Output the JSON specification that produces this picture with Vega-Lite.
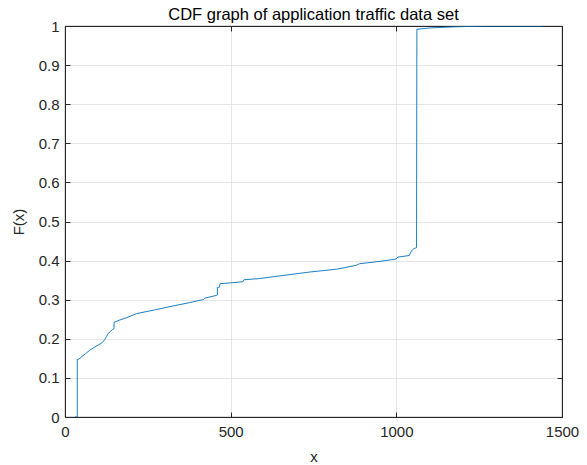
{
  "$schema": "https://vega.github.io/schema/vega-lite/v6.json",
  "autosize": "none",
  "padding": {"left": 65, "top": 26, "right": 25, "bottom": 48},
  "width": 497,
  "height": 391,
  "background": "white",
  "config": {
    "font": "Liberation Sans",
    "view": {"stroke": "#262626", "strokeWidth": 0.8},
    "axis": {"labelFont": "Liberation Sans", "titleFont": "Liberation Sans"}
  },
  "title": {"text": "CDF graph of application traffic data set", "fontSize": 16.5, "fontWeight": "normal", "color": "#000000", "offset": -4, "font": "Liberation Sans"},
  "data": {
    "values": [
      {"i": 0, "x": 30, "F": 0},
      {"i": 1, "x": 37, "F": 0},
      {"i": 2, "x": 37, "F": 0.147},
      {"i": 3, "x": 42, "F": 0.148},
      {"i": 4, "x": 50, "F": 0.154},
      {"i": 5, "x": 62, "F": 0.162},
      {"i": 6, "x": 75, "F": 0.171},
      {"i": 7, "x": 88, "F": 0.178},
      {"i": 8, "x": 100, "F": 0.184},
      {"i": 9, "x": 112, "F": 0.19},
      {"i": 10, "x": 120, "F": 0.198},
      {"i": 11, "x": 125, "F": 0.206},
      {"i": 12, "x": 130, "F": 0.213},
      {"i": 13, "x": 137, "F": 0.219},
      {"i": 14, "x": 144, "F": 0.224},
      {"i": 15, "x": 148, "F": 0.226},
      {"i": 16, "x": 148, "F": 0.242},
      {"i": 17, "x": 165, "F": 0.248},
      {"i": 18, "x": 186, "F": 0.254},
      {"i": 19, "x": 216, "F": 0.2645},
      {"i": 20, "x": 266, "F": 0.273},
      {"i": 21, "x": 326, "F": 0.284},
      {"i": 22, "x": 376, "F": 0.2925},
      {"i": 23, "x": 407, "F": 0.2985},
      {"i": 24, "x": 417, "F": 0.3},
      {"i": 25, "x": 422, "F": 0.304},
      {"i": 26, "x": 447, "F": 0.309},
      {"i": 27, "x": 457, "F": 0.311},
      {"i": 28, "x": 460, "F": 0.312},
      {"i": 29, "x": 460, "F": 0.331},
      {"i": 30, "x": 466, "F": 0.332},
      {"i": 31, "x": 468, "F": 0.341},
      {"i": 32, "x": 500, "F": 0.343},
      {"i": 33, "x": 537, "F": 0.346},
      {"i": 34, "x": 540, "F": 0.351},
      {"i": 35, "x": 587, "F": 0.354},
      {"i": 36, "x": 637, "F": 0.3597},
      {"i": 37, "x": 738, "F": 0.3707},
      {"i": 38, "x": 820, "F": 0.378},
      {"i": 39, "x": 878, "F": 0.3878},
      {"i": 40, "x": 889, "F": 0.392},
      {"i": 41, "x": 950, "F": 0.398},
      {"i": 42, "x": 999, "F": 0.404},
      {"i": 43, "x": 1005, "F": 0.409},
      {"i": 44, "x": 1039, "F": 0.413},
      {"i": 45, "x": 1044, "F": 0.422},
      {"i": 46, "x": 1049, "F": 0.428},
      {"i": 47, "x": 1054, "F": 0.431},
      {"i": 48, "x": 1061, "F": 0.433},
      {"i": 49, "x": 1062, "F": 0.9915},
      {"i": 50, "x": 1100, "F": 0.995},
      {"i": 51, "x": 1180, "F": 0.998},
      {"i": 52, "x": 1270, "F": 1.0},
      {"i": 53, "x": 1441, "F": 1.0}
    ]
  },
  "layer": [
    {
      "mark": {"type": "line", "color": "#0072BD", "strokeWidth": 0.9, "clip": true},
      "encoding": {
        "x": {
          "field": "x", "type": "quantitative",
          "scale": {"domain": [0, 1500], "nice": false, "zero": false},
          "axis": {
            "title": "x", "titleFontSize": 15, "titleFontWeight": "normal", "titleColor": "#262626", "titlePadding": 10,
            "values": [0, 500, 1000, 1500], "format": "d", "labelFlush": false, "labelFontSize": 15, "labelColor": "#262626",
            "tickSize": -5, "tickColor": "#262626", "labelPadding": 12, "domainColor": "#262626",
            "grid": true, "gridColor": "#dfdfdf", "gridWidth": 0.8
          }
        },
        "y": {
          "field": "F", "type": "quantitative",
          "scale": {"domain": [0, 1], "nice": false},
          "axis": {
            "title": "F(x)", "titleFontSize": 15, "titleFontWeight": "normal", "titleColor": "#262626", "titlePadding": 12,
            "values": [0, 0.1, 0.2, 0.3, 0.4, 0.5, 0.6, 0.7, 0.8, 0.9, 1], "format": "~g", "labelFlush": false,
            "labelFontSize": 15, "labelColor": "#262626",
            "tickSize": -5, "tickColor": "#262626", "labelPadding": 11, "domainColor": "#262626",
            "grid": true, "gridColor": "#dfdfdf", "gridWidth": 0.8
          }
        },
        "order": {"field": "i", "type": "quantitative"}
      }
    },
    {
      "mark": {"type": "line", "opacity": 0},
      "encoding": {
        "x": {
          "field": "x", "type": "quantitative",
          "scale": {"domain": [0, 1500], "nice": false, "zero": false},
          "axis": {"orient": "top", "title": null, "labels": false, "values": [0, 500, 1000, 1500], "tickSize": -5, "tickColor": "#262626", "domainColor": "#262626", "grid": false}
        },
        "y": {
          "field": "F", "type": "quantitative",
          "scale": {"domain": [0, 1], "nice": false},
          "axis": {"orient": "right", "title": null, "labels": false, "values": [0, 0.1, 0.2, 0.3, 0.4, 0.5, 0.6, 0.7, 0.8, 0.9, 1], "tickSize": -5, "tickColor": "#262626", "domainColor": "#262626", "grid": false}
        },
        "order": {"field": "i", "type": "quantitative"}
      }
    }
  ],
  "resolve": {"axis": {"x": "independent", "y": "independent"}}
}
